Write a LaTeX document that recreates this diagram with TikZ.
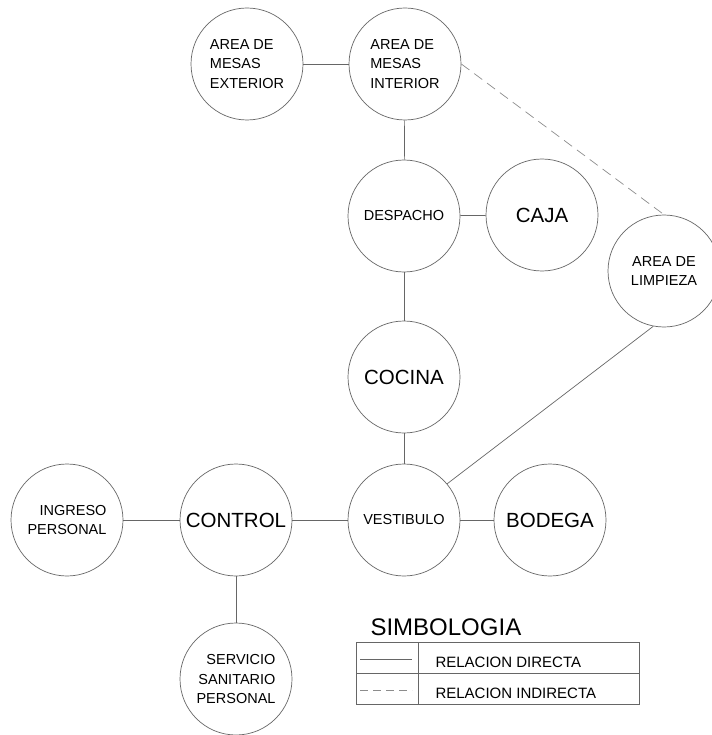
\documentclass[tikz,border=0pt]{standalone}
\usepackage{fontspec}
\setmainfont{Liberation Sans}

\begin{document}
\begin{tikzpicture}[x=1pt, y=-1pt,
    espacio/.style={circle, draw=black!60, line width=0.7pt, minimum size=112pt,
      inner sep=0pt, font=\fontsize{14.5}{19.5}\selectfont},
    grande/.style={font=\fontsize{20.5}{24}\selectfont},
    directa/.style={draw=black!60, line width=0.7pt},
    indirecta/.style={draw=black!45, line width=0.7pt, dash pattern=on 10pt off 6pt}]
      \useasboundingbox (0,0) rectangle (711,735);
      % espacios
      \node[espacio, align=left]  (ext)  at (247,64)  {AREA DE\\MESAS\\EXTERIOR};
      \node[espacio, align=left]  (int)  at (405,64)  {AREA DE\\MESAS\\INTERIOR};
      \node[espacio]              (desp) at (404,216) {DESPACHO};
      \node[espacio, grande]      (caja) at (542,215) {CAJA};
      \node[espacio, align=center] (limp) at (664,271) {AREA DE\\LIMPIEZA};
      \node[espacio, grande]      (coc)  at (404,377) {COCINA};
      \node[espacio]              (vest) at (404,520) {VESTIBULO};
      \node[espacio, grande]      (bod)  at (550,520) {BODEGA};
      \node[espacio, grande]      (ctrl) at (236,520) {CONTROL};
      \node[espacio, align=right] (ing)  at (67,520)  {INGRESO\\PERSONAL};
      \node[espacio, align=right] (serv) at (236,679) {SERVICIO\\SANITARIO\\PERSONAL};
      % relaciones
      \draw[directa] (ext) -- (int);
      \draw[directa] (int) -- (desp);
      \draw[directa] (desp) -- (caja);
      \draw[directa] (desp) -- (coc);
      \draw[directa] (coc) -- (vest);
      \draw[directa] (vest) -- (bod);
      \draw[directa] (ctrl) -- (vest);
      \draw[directa] (ing) -- (ctrl);
      \draw[directa] (ctrl) -- (serv);
      \draw[directa] (vest.40) -- (limp.259);
      \draw[indirecta] (int.east) -- (limp.north);
      % simbologia
      \node[anchor=base west, font=\fontsize{24}{28}\selectfont] (simb) at (367,635) {SIMBOLOGIA};
      \draw[directa] (356,642) rectangle (639,704);
      \draw[directa] (356,673) -- (639,673);
      \draw[directa] (418,642) -- (418,704);
      \draw[directa] (360,659) -- (412,659);
      \draw[indirecta, dash pattern=on 8pt off 5pt] (360,690) -- (412,690);
      \node[anchor=base west, font=\fontsize{15}{18}\selectfont] (dir) at (432,667) {RELACION DIRECTA};
      \node[anchor=base west, font=\fontsize{15}{18}\selectfont] (ind) at (432,698) {RELACION INDIRECTA};
    \end{tikzpicture}
\end{document}
